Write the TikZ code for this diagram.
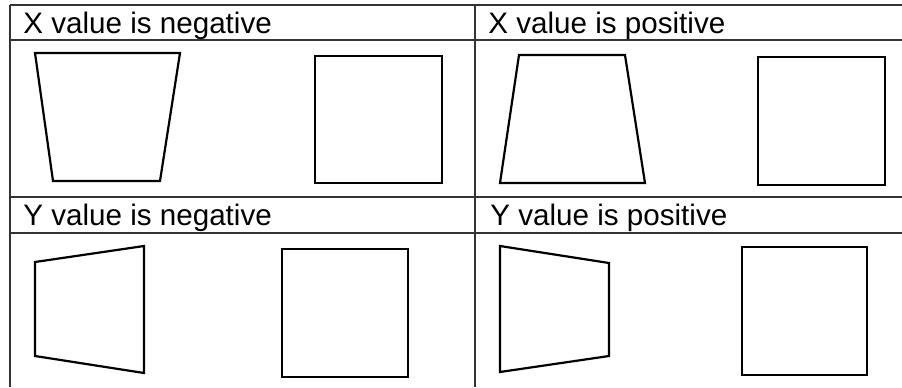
\documentclass[tikz,border=0pt]{standalone}
\usepackage{fontspec}
\setmainfont{Liberation Sans}

\begin{document}
\begin{tikzpicture}[
    x=0.5pt, y=-0.5pt,      % 1 unit = 1 pixel of the original
    grid/.style={draw=black!80, line width=1pt},
    outline/.style={draw=black, line width=1.1pt, line join=miter},
    caption/.style={anchor=base west, inner sep=0pt, font=\fontsize{14.8}{16}\selectfont}
]
    \useasboundingbox (0,0) rectangle (902,387);

    % --- table lines ---
    \draw [grid] (10,5) -- (902,5);
    \draw [grid] (10,40) -- (902,40);
    \draw [grid] (10,197) -- (902,197);
    \draw [grid] (10,233) -- (902,233);
    \draw [grid] (10,5) -- (10,387);
    \draw [grid] (475,5) -- (475,387);

    % --- captions ---
    \node [caption] (xneg) at (23,33)  {X value is negative};
    \node [caption] (xpos) at (488,33) {X value is positive};
    \node [caption] (yneg) at (23,225) {Y value is negative};
    \node [caption] (ypos) at (490,225) {Y value is positive};

    % --- X negative ---
    \draw [outline] (35,53) -- (180,53) -- (160,181) -- (53,181) -- cycle;
    \draw [outline] (315,56) rectangle (442,183);

    % --- X positive ---
    \draw [outline] (519,55) -- (625,55) -- (645,183) -- (500,183) -- cycle;
    \draw [outline] (758,57) rectangle (885,185);

    % --- Y negative ---
    \draw [outline] (35,262) -- (144,246) -- (144,373) -- (35,356) -- cycle;
    \draw [outline] (282,249) rectangle (408,377);

    % --- Y positive ---
    \draw [outline] (500,246) -- (609,263) -- (609,356) -- (500,372) -- cycle;
    \draw [outline] (742,247) rectangle (867,375);

\end{tikzpicture}
\end{document}
